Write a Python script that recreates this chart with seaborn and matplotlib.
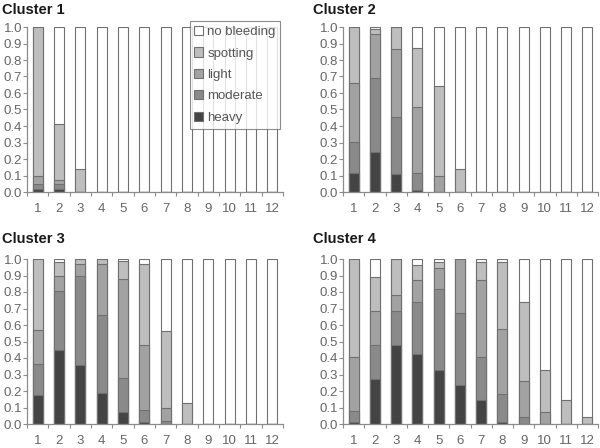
import matplotlib
matplotlib.use("Agg")
import matplotlib.pyplot as plt
import seaborn as sns
import pandas as pd
from matplotlib.patches import Patch
from matplotlib.ticker import MultipleLocator, FormatStrFormatter, FixedLocator

months = [str(i) for i in range(1, 13)]
categories = ["heavy", "moderate", "light", "spotting", "no bleeding"]
legend_order = ["no bleeding", "spotting", "light", "moderate", "heavy"]
titles = ["Cluster 1", "Cluster 2", "Cluster 3", "Cluster 4"]

c1_heavy    = [0.02, 0.02, 0, 0, 0, 0, 0, 0, 0, 0, 0, 0]
c1_moderate = [0.03, 0.03, 0, 0, 0, 0, 0, 0, 0, 0, 0, 0]
c1_light    = [0.045, 0.02, 0, 0, 0, 0, 0, 0, 0, 0, 0, 0]
c1_spotting = [0.905, 0.34, 0.14, 0, 0, 0, 0, 0, 0, 0, 0, 0]
c1_none     = [0, 0.59, 0.86, 1, 1, 1, 1, 1, 1, 1, 1, 1]

c2_heavy    = [0.115, 0.24, 0.11, 0.015, 0, 0, 0, 0, 0, 0, 0, 0]
c2_moderate = [0.19, 0.45, 0.345, 0.10, 0, 0, 0, 0, 0, 0, 0, 0]
c2_light    = [0.355, 0.265, 0.41, 0.40, 0.095, 0, 0, 0, 0, 0, 0, 0]
c2_spotting = [0.34, 0.035, 0.135, 0.355, 0.55, 0.14, 0, 0, 0, 0, 0, 0]
c2_none     = [0, 0.01, 0, 0.13, 0.355, 0.86, 1, 1, 1, 1, 1, 1]

c3_heavy    = [0.174, 0.45, 0.36, 0.188, 0.071, 0.015, 0, 0, 0, 0, 0, 0]
c3_moderate = [0.19, 0.354, 0.535, 0.475, 0.208, 0.072, 0.016, 0, 0, 0, 0, 0]
c3_light    = [0.208, 0.091, 0.075, 0.307, 0.60, 0.394, 0.081, 0, 0, 0, 0, 0]
c3_spotting = [0.428, 0.085, 0.03, 0.03, 0.111, 0.489, 0.469, 0.125, 0, 0, 0, 0]
c3_none     = [0, 0.02, 0, 0, 0.01, 0.03, 0.434, 0.875, 1, 1, 1, 1]

c4_heavy    = [0.015, 0.273, 0.481, 0.424, 0.329, 0.238, 0.147, 0.015, 0, 0, 0, 0]
c4_moderate = [0.062, 0.204, 0.206, 0.315, 0.489, 0.435, 0.257, 0.167, 0.04, 0, 0, 0]
c4_light    = [0.327, 0.21, 0.095, 0.132, 0.127, 0.327, 0.471, 0.396, 0.219, 0.075, 0, 0]
c4_spotting = [0.596, 0.204, 0.218, 0.091, 0.039, 0, 0.109, 0.406, 0.48, 0.254, 0.147, 0.04]
c4_none     = [0, 0.109, 0, 0.038, 0.016, 0, 0.016, 0.016, 0.261, 0.671, 0.853, 0.96]

clusters = [
    [c1_heavy, c1_moderate, c1_light, c1_spotting, c1_none],
    [c2_heavy, c2_moderate, c2_light, c2_spotting, c2_none],
    [c3_heavy, c3_moderate, c3_light, c3_spotting, c3_none],
    [c4_heavy, c4_moderate, c4_light, c4_spotting, c4_none],
]

colors = {
    "heavy": "#444444",
    "moderate": "#8a8a8a",
    "light": "#a2a2a2",
    "spotting": "#bebebe",
    "no bleeding": "#ffffff",
}
edge = "#707070"
axis_gray = "#8c8c8c"
text_gray = "#666666"

plt.rcParams["font.family"] = ["Liberation Sans", "DejaVu Sans"]

fig = plt.figure(figsize=(6.0, 4.48), dpi=100)
W, H = 600.0, 448.0
boxes = [
    (27, 27, 283, 192),
    (343, 27, 598, 192),
    (27, 259, 283, 424),
    (343, 259, 598, 424),
]
title_pos = [(2, 3), (313, 3), (2, 232), (313, 232)]

for idx, (series, box) in enumerate(zip(clusters, boxes)):
    x0, y0, x1, y1 = box
    ax = fig.add_axes([x0 / W, 1 - y1 / H, (x1 - x0) / W, (y1 - y0) / H])
    df = pd.DataFrame({cat: vals for cat, vals in zip(categories, series)}, index=months)
    cum = df.cumsum(axis=1)
    for cat in reversed(categories):
        sns.barplot(x=months, y=cum[cat].values, order=months, color=colors[cat],
                    saturation=1, edgecolor=edge, linewidth=0.8, width=0.47,
                    errorbar=None, ax=ax)
    ax.set_xlim(-0.5, 11.5)
    ax.set_ylim(0, 1.0)
    ax.yaxis.set_major_locator(MultipleLocator(0.1))
    ax.yaxis.set_major_formatter(FormatStrFormatter("%.1f"))
    ax.set_xticks(range(12))
    ax.set_xticklabels(months)
    ax.xaxis.set_minor_locator(FixedLocator([i - 0.5 for i in range(13)]))
    ax.tick_params(axis="x", which="major", length=0, pad=8, labelsize=9.5, colors=text_gray)
    ax.tick_params(axis="x", which="minor", length=3, width=0.8, color=axis_gray, direction="out")
    ax.tick_params(axis="y", which="major", length=3, width=0.8, color=axis_gray, direction="out",
                   labelsize=9.5, labelcolor=text_gray, pad=0.5)
    for s in ["top", "right"]:
        ax.spines[s].set_visible(False)
    for s in ["left", "bottom"]:
        ax.spines[s].set_color(axis_gray)
        ax.spines[s].set_linewidth(0.9)
    ax.set_xlabel("")
    ax.set_ylabel("")
    ax.set_facecolor("white")
    tx, ty = title_pos[idx]
    fig.text(tx / W, 1 - ty / H, titles[idx], fontsize=10.5, fontweight="bold",
             color="#1a1a1a", va="top", ha="left")
    if idx == 0:
        handles = [Patch(facecolor=colors[c], edgecolor=edge, linewidth=0.8, label=c)
                   for c in legend_order]
        leg = ax.legend(handles=handles, loc="upper right", bbox_to_anchor=(0.99, 1.035),
                        frameon=True, fancybox=False, fontsize=9.5, handlelength=0.7,
                        handleheight=0.7, handletextpad=0.3, labelspacing=0.7,
                        borderpad=0.35, borderaxespad=0)
        leg.get_frame().set_edgecolor("#707070")
        leg.get_frame().set_linewidth(0.8)
        for t in leg.get_texts():
            t.set_color("#555555")
        leg.set_zorder(10)

fig.savefig("out.png", dpi=100)
